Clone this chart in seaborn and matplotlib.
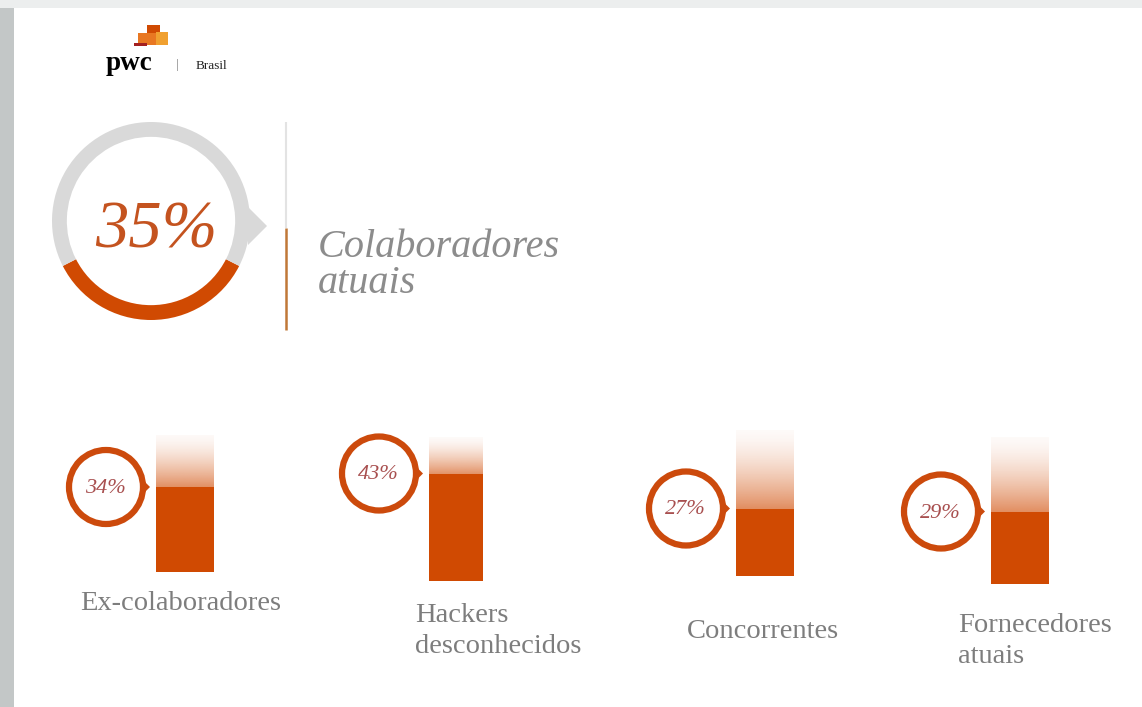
import numpy as np
import matplotlib
matplotlib.use("Agg")
import matplotlib.pyplot as plt
import seaborn as sns
from matplotlib.patches import Rectangle, Circle, Polygon

# ---------------- data ----------------
headline_label = "Colaboradores\natuais"
headline_value = 35
categories = ["Ex-colaboradores", "Hackers\ndesconhecidos", "Concorrentes", "Fornecedores\natuais"]
values = [34, 43, 27, 29]
value_labels = ["34%", "43%", "27%", "29%"]
logo_text = "pwc"
logo_country = "Brasil"

# ---------------- style ----------------
ORANGE = "#d04a02"
RING = "#cc4a0c"
GRAY_RING = "#d9d9d9"
NUM_BIG = "#c4531f"
NUM_SMALL = "#a84f4f"
LABEL = "#7d7d7d"
HEAD = "#8c8c8c"
SERIF = "Liberation Serif"

W, H = 1142, 707
sns.set_theme(style="white")
fig = plt.figure(figsize=(W / 100, H / 100), dpi=100)
fig.patch.set_facecolor("white")


def px_axes(x0, y0, x1, y1):
    ax = fig.add_axes([x0 / W, 1 - y1 / H, (x1 - x0) / W, (y1 - y0) / H])
    ax.patch.set_alpha(0)
    return ax


bg = fig.add_axes([0, 0, 1, 1])
bg.set_xlim(0, W)
bg.set_ylim(H, 0)
bg.axis("off")

# frame strips
bg.add_patch(Rectangle((0, 0), W, 8, color="#eceeee", lw=0))
bg.add_patch(Rectangle((0, 8), 14, H - 8, color="#c3c7c7", lw=0))

# logo
bg.add_patch(Rectangle((147, 25), 13, 9, color="#d04a02", lw=0))
bg.add_patch(Rectangle((138, 33), 19, 12, color="#e87722", lw=0))
bg.add_patch(Rectangle((156, 32), 12, 13, color="#f0a030", lw=0))
bg.add_patch(Rectangle((134, 43), 13, 2.5, color="#a32020", lw=0))
bg.text(106, 70, logo_text, fontsize=19.5, fontweight="bold", family=SERIF, color="black", va="baseline")
bg.text(176, 68, "|", fontsize=9, family=SERIF, color="#777777", va="baseline")
bg.text(196, 69, logo_country, fontsize=9.5, family=SERIF, color="#222222", va="baseline")

# ---------------- headline donut ----------------
cx, cy, r = 151, 221, 99
dax = px_axes(cx - r, cy - r, cx + r, cy + r)
span = 360 * headline_value / 100
dax.pie([headline_value, 100 - headline_value], colors=[ORANGE, GRAY_RING],
        startangle=270 - span / 2, counterclock=True, radius=1,
        wedgeprops=dict(width=0.15, edgecolor="none"))
dax.set_xlim(-1, 1)
dax.set_ylim(-1, 1)
dax.axis("off")
bg.add_patch(Polygon([(248, 207), (248, 245), (267, 226)], closed=True, color=GRAY_RING, lw=0))
bg.text(156, 248, f"{headline_value}%", fontsize=48, style="italic", family=SERIF,
        color=NUM_BIG, ha="center", va="baseline")

# divider
bg.plot([286, 286], [122, 228], color="#e3e3e3", lw=1.5, solid_capstyle="butt")
bg.plot([286, 286], [228, 330], color="#c07838", lw=1.8, solid_capstyle="butt")
for i, line in enumerate(headline_label.split("\n")):
    bg.text(318, 257 + 36 * i, line, fontsize=29, style="italic", family=SERIF,
            color=HEAD, va="baseline")

# ---------------- bars ----------------
bar_x = [(156, 214), (429, 483), (736, 794), (991, 1049)]
bar_bottom = [572, 581, 576, 584]
bar_top = [435, 437, 430, 437]
label_pos = [(80, 610), (415, 622), (687, 638), (958, 632)]
PX_PER_UNIT = 2.5

orange_rgb = np.array(matplotlib.colors.to_rgb(ORANGE))
for i, (cat, val) in enumerate(zip(categories, values)):
    x0, x1 = bar_x[i]
    ax = px_axes(x0, bar_top[i], x1, bar_bottom[i])
    top = (bar_bottom[i] - bar_top[i]) / PX_PER_UNIT
    sns.barplot(x=[cat], y=[val], color=ORANGE, saturation=1, width=1, ax=ax,
                edgecolor="none", linewidth=0, zorder=2)
    # fading remainder above the value (tucked slightly under the bar to avoid a seam)
    n = 200
    t = np.linspace(0, 1, n)[:, None]  # 0 top -> 1 bottom
    alpha = 0.03 + 0.62 * t ** 1.5
    img = np.zeros((n, 1, 4))
    img[..., :3] = orange_rgb
    img[..., 3] = alpha
    ax.imshow(img, extent=(-0.5, 0.5, val - 1.0, top), aspect="auto",
              interpolation="bilinear", zorder=0)
    ax.set_xlim(-0.5, 0.5)
    ax.set_ylim(0, top)
    ax.axis("off")

    # value badge positioned at bar value level
    disp = ax.transData.transform((-0.5, val))
    bx, by = bg.transData.inverted().transform(disp)
    ccx = bx - 50
    bg.add_patch(Circle((ccx, by), 37, fill=False, ec=RING, lw=4.5))
    bg.add_patch(Polygon([(ccx + 38, by - 6), (ccx + 38, by + 6), (ccx + 44, by)], closed=True,
                         color=RING, lw=0))
    bg.text(ccx - 1, by + 6, value_labels[i], fontsize=16, style="italic", family=SERIF,
            color=NUM_SMALL, ha="center", va="baseline")

    lx, ly = label_pos[i]
    for j, line in enumerate(cat.split("\n")):
        bg.text(lx, ly + 31 * j, line, fontsize=20.5, family=SERIF, color=LABEL, va="baseline")

fig.savefig("out.png", dpi=100, facecolor="white")
